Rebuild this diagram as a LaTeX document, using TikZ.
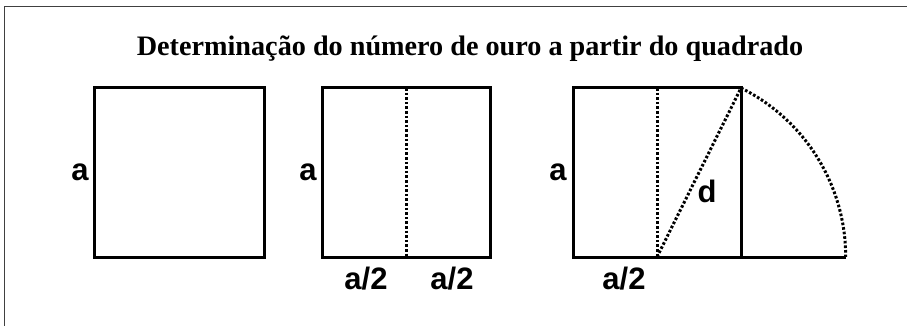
\documentclass[tikz,border=0pt]{standalone}
\usepackage{fontspec}
\setmainfont{Liberation Serif}
\newfontfamily\labfont{Liberation Sans}
\begin{document}
\begin{tikzpicture}[x=1pt,y=-1pt,
  sq/.style={line width=3pt,line join=miter},
  dotline/.style={line width=3pt,dash pattern=on 2.6pt off 2pt},
  lab/.style={font=\labfont\bfseries\fontsize{31}{31}\selectfont,inner sep=0pt},
  ttl/.style={font=\bfseries\fontsize{28.2}{28.2}\selectfont,inner sep=0pt}]
\useasboundingbox (0,0) rectangle (907,326);
\fill[white] (0,0) rectangle (907,326);
\draw[line width=1.8pt,black!75] (4.5,326) -- (4.5,6.5) -- (907,6.5);
\node[ttl] (title) at (470,49) {Determinação do número de ouro a partir do quadrado};
% square 1
\draw[sq] (94,88) rectangle (264,257);
\node[lab] (a1) at (80,172) {a};
% square 2
\draw[sq] (322,88) rectangle (490,257);
\coordinate (m2t) at (406,88);
\coordinate (m2b) at (406,257);
\draw[dotline] (m2t) -- (m2b);
\node[lab] (a2) at (308,172) {a};
\node[lab] (h2a) at (366,279) {a/2};
\node[lab] (h2b) at (452,279) {a/2};
% square 3
\draw[sq] (573,88) rectangle (741,257);
\coordinate (m3t) at (657,88);
\coordinate (m3b) at (657,257);
\coordinate (c3) at (741,88);
\coordinate (e3) at (845.6,257);
\draw[sq] (741,257) -- (e3);
\draw[dotline] (m3t) -- (m3b);
\draw[dotline] (m3b) -- (c3);
\draw[dotline] (c3) arc[start angle=-63.57,end angle=0,radius=188.7];
\node[lab] (a3) at (558,172) {a};
\node[lab] (d3) at (707,191) {d};
\node[lab] (h3) at (624,279) {a/2};
\end{tikzpicture}
\end{document}
